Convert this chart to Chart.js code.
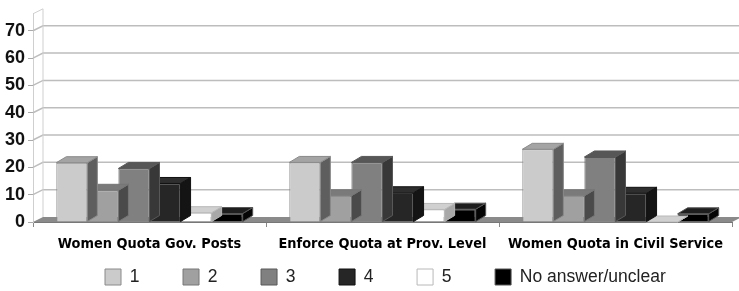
<!DOCTYPE html>
<html>
<head>
<meta charset="utf-8">
<script src="https://cdn.jsdelivr.net/npm/chart.js@4.4.1/dist/chart.umd.min.js"></script>
<style>
html, body { margin: 0; padding: 0; background: #fff; }
#contenedor { width: 739px; height: 291px; }
</style>
</head>
<body>
<div id="contenedor"><canvas id="grafica"></canvas></div>
<script>
// datos
const categorias = ['Women Quota Gov. Posts', 'Enforce Quota at Prov. Level', 'Women Quota in Civil Service'];
const nombresSeries = ['1', '2', '3', '4', '5', 'No answer/unclear'];
const valores1 = [21.7, 21.8, 26.6];
const valores2 = [11.6, 9.6, 9.6];
const valores3 = [19.6, 21.8, 23.8];
const valores4 = [14.1, 10.7, 10.5];
const valores5 = [3.4, 4.6, 0];
const valoresNoAnswer = [3.1, 4.7, 3.0];
const ticksY = [0, 10, 20, 30, 40, 50, 60, 70];

// colores de cada cara (frente, arriba, lado, borde)
const colorFrente = ['#cbcbcb', '#a0a0a0', '#808080', '#262626', '#ffffff', '#000000'];
const colorArriba = ['#a4a4a4', '#7a7a7a', '#575757', '#2e2e2e', '#d0d0d0', '#1e1e1e'];
const colorLado = ['#5e5e5e', '#4a4a4a', '#383838', '#141414', '#a8a8a8', '#050505'];
const colorBorde = ['#8a8a8a', '#767676', '#585858', '#111111', '#b8b8b8', '#555555'];

const prof = {dx: 10, dy: -6};   // profundidad de las barras
const pared = {dx: 10, dy: -5};  // desplazamiento de la pared del fondo
const fondoGrafica = 222;        // linea del cero (frente)

let todos = [valores1, valores2, valores3, valores4, valores5, valoresNoAnswer];
let datos = {
    labels: categorias,
    datasets: todos.map(function (v, i) {
        return {
            label: nombresSeries[i],
            data: v,
            backgroundColor: colorFrente[i],
            borderColor: colorBorde[i],
            borderWidth: 1,
            categoryPercentage: 0.8,
            barPercentage: 1.0
        };
    })
};

// plugin para el efecto 3D
const efecto3d = {
    id: 'efecto3d',
    beforeDatasetsDraw(chart) {
        const {ctx, chartArea: {left, right, top, bottom}, scales: {y}} = chart;
        ctx.save();
        ctx.strokeStyle = '#bdbdbd';
        ctx.lineWidth = 1.5;
        ticksY.forEach(function (v) {
            if (v === 0) return;
            const py = y.getPixelForValue(v);
            ctx.beginPath();
            ctx.moveTo(left, py);
            ctx.lineTo(left + pared.dx, py + pared.dy);
            ctx.lineTo(chart.width, py + pared.dy);
            ctx.stroke();
        });
        ctx.lineWidth = 1;
        ctx.strokeStyle = '#cfcfcf';
        ctx.beginPath();
        ctx.moveTo(left, top);
        ctx.lineTo(left + pared.dx, top + pared.dy);
        ctx.lineTo(left + pared.dx, bottom + pared.dy);
        ctx.stroke();
        // suelo
        ctx.fillStyle = '#8a8a8a';
        ctx.beginPath();
        ctx.moveTo(left, bottom);
        ctx.lineTo(left + pared.dx, bottom + pared.dy);
        ctx.lineTo(right + pared.dx, bottom + pared.dy);
        ctx.lineTo(right, bottom);
        ctx.closePath();
        ctx.fill();
        ctx.restore();
    },
    afterDatasetDraw(chart, args) {
        const ctx = chart.ctx;
        const i = args.index;
        ctx.save();
        ctx.lineWidth = 1;
        ctx.strokeStyle = colorBorde[i];
        args.meta.data.forEach(function (barra) {
            const {x, y, base, width} = barra.getProps(['x', 'y', 'base', 'width'], true);
            const l = x - width / 2, r = x + width / 2;
            // lado
            ctx.fillStyle = colorLado[i];
            ctx.beginPath();
            ctx.moveTo(r, y);
            ctx.lineTo(r + prof.dx, y + prof.dy);
            ctx.lineTo(r + prof.dx, base + prof.dy);
            ctx.lineTo(r, base);
            ctx.closePath();
            ctx.fill();
            ctx.stroke();
            // arriba
            ctx.fillStyle = colorArriba[i];
            ctx.beginPath();
            ctx.moveTo(l, y);
            ctx.lineTo(l + prof.dx, y + prof.dy);
            ctx.lineTo(r + prof.dx, y + prof.dy);
            ctx.lineTo(r, y);
            ctx.closePath();
            ctx.fill();
            ctx.stroke();
        });
        ctx.restore();
    },
    afterLayout(chart) {
        // colocar la leyenda como en el original
        const ley = chart.legend;
        const alto = ley.height;
        ley.left = 95.5;
        ley.top = 269 - 9.5 - 0.75;
        ley.bottom = ley.top + alto;
    }
};

let opciones = {
    responsive: true,
    maintainAspectRatio: false,
    animation: false,
    layout: { padding: { top: 13, right: 7, left: 0, bottom: 0 } },
    plugins: {
        tooltip: { enabled: false },
        legend: {
            position: 'bottom',
            align: 'start',
            labels: {
                boxWidth: 16,
                boxHeight: 16,
                padding: 9.5,
                color: '#222',
                font: { family: 'Liberation Sans', size: 17.5 },
                generateLabels: function (chart) {
                    const items = Chart.defaults.plugins.legend.labels.generateLabels(chart);
                    items.forEach(function (it) {
                        if (it.text.length === 1) it.text = it.text + '       ';
                        it.lineWidth = 1;
                    });
                    return items;
                }
            }
        }
    },
    scales: {
        x: {
            grid: { drawOnChartArea: false, drawTicks: true, tickLength: 5, color: '#888', offset: true },
            border: { display: true, color: '#777' },
            ticks: {
                autoSkip: false, maxRotation: 0, padding: 9, color: '#000',
                font: { family: 'DejaVu Sans Condensed', size: 14.4, weight: 'bold' }
            },
            afterFit: function (scale) {
                const ley = scale.chart.legend;
                const altoLey = ley ? ley.height : 38.5;
                scale.height = 291 - fondoGrafica - altoLey;
            }
        },
        y: {
            min: 0,
            max: 76.2,
            grid: { drawOnChartArea: false, tickLength: 5, color: '#aaa' },
            border: { display: true, color: '#cfcfcf' },
            ticks: {
                stepSize: 10, padding: 3, color: '#111', includeBounds: false,
                font: { family: 'Liberation Sans', size: 18, weight: 'bold' }
            },
            afterBuildTicks: function (scale) {
                scale.ticks = scale.ticks.filter(function (t) { return ticksY.indexOf(t.value) !== -1; });
            },
            afterFit: function (scale) { scale.width = 33; }
        }
    }
};

var referenciaContenedor = document.getElementById('grafica');
let miGrafica = new Chart(referenciaContenedor, {
    type: 'bar',
    data: datos,
    options: opciones,
    plugins: [efecto3d]
});
</script>
</body>
</html>
